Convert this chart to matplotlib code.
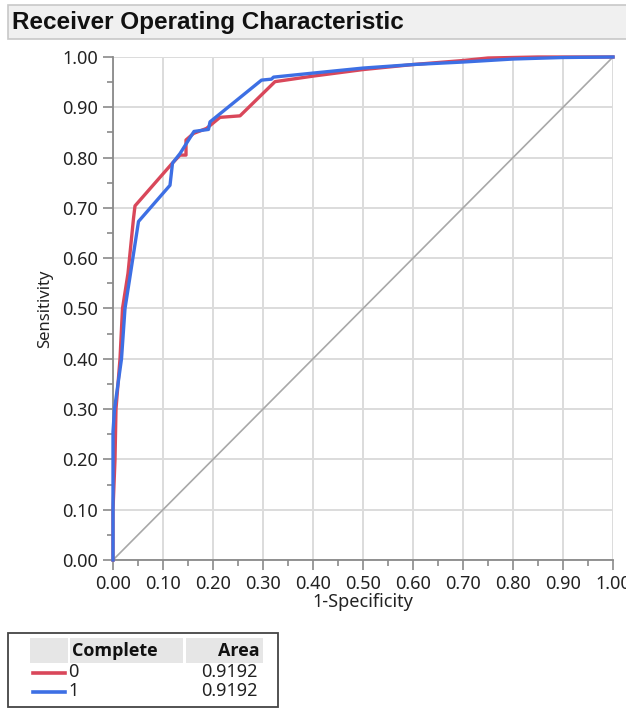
import matplotlib
matplotlib.use("Agg")
import matplotlib.pyplot as plt
from matplotlib.patches import Rectangle
from matplotlib.lines import Line2D
from matplotlib.ticker import MultipleLocator, FormatStrFormatter

# ROC curve points (1-Specificity, Sensitivity) for each level of "Complete"
fpr_0 = [0.000, 0.000, 0.004, 0.006, 0.014, 0.019, 0.030, 0.041, 0.044, 0.117, 0.134,
         0.146, 0.146, 0.161, 0.187, 0.214, 0.254, 0.324, 0.400, 0.500, 0.600, 0.700,
         0.750, 0.850, 1.000]
tpr_0 = [0.000, 0.100, 0.200, 0.300, 0.400, 0.500, 0.570, 0.679, 0.704, 0.787, 0.805,
         0.805, 0.835, 0.848, 0.858, 0.880, 0.883, 0.951, 0.962, 0.975, 0.985, 0.993,
         0.998, 1.000, 1.000]

fpr_1 = [0.000, 0.000, 0.003, 0.017, 0.024, 0.033, 0.051, 0.114, 0.119, 0.134, 0.162,
         0.191, 0.194, 0.297, 0.317, 0.321, 0.400, 0.500, 0.600, 0.700, 0.800, 0.900,
         1.000]
tpr_1 = [0.000, 0.255, 0.300, 0.400, 0.500, 0.557, 0.673, 0.745, 0.789, 0.808, 0.852,
         0.856, 0.871, 0.954, 0.956, 0.960, 0.968, 0.978, 0.985, 0.990, 0.996, 0.999,
         1.000]

levels = ["0", "1"]
areas = ["0.9192", "0.9192"]
colors = ["#d9475a", "#3d6fe4"]

FONT = "Noto Sans"
BOLD_FONT = "Open Sans"
plt.rcParams["font.family"] = [FONT, "DejaVu Sans"]

W, H = 626, 713
fig = plt.figure(figsize=(W / 100, H / 100), dpi=100)


def fx(px):
    return px / W


def fy(py):
    return 1 - py / H


# Title bar
fig.patches.append(Rectangle((fx(8), fy(39)), fx(626) - fx(8) + 0.01, fy(5) - fy(39),
                             transform=fig.transFigure, facecolor="#f0f0f0",
                             edgecolor="#c8c8c8", linewidth=1.2))
fig.text(fx(12), fy(22), "Receiver Operating Characteristic", fontsize=17.5,
         fontweight="bold", ha="left", va="center", color="#111111",
         family="Liberation Sans")

# Plot area
ax = fig.add_axes([fx(113), fy(560), fx(613) - fx(113), fy(57) - fy(560)])
ax.set_xlim(0, 1)
ax.set_ylim(0, 1)

ax.plot([0, 1], [0, 1], color="#a8a8a8", linewidth=1.2, zorder=2)
ax.plot(fpr_0, tpr_0, color=colors[0], linewidth=2.4, zorder=3, clip_on=False,
        solid_joinstyle="round")
ax.plot(fpr_1, tpr_1, color=colors[1], linewidth=2.4, zorder=4, clip_on=False,
        solid_joinstyle="round")

for a in (ax.xaxis, ax.yaxis):
    a.set_major_locator(MultipleLocator(0.1))
    a.set_minor_locator(MultipleLocator(0.05))
    a.set_major_formatter(FormatStrFormatter("%.2f"))

ax.grid(True, which="major", color="#dcdcdc", linewidth=1.4, zorder=0)
ax.set_axisbelow(True)
for s in ("top", "right"):
    ax.spines[s].set_visible(False)
for s in ("left", "bottom"):
    ax.spines[s].set_color("#8a8a8a")
    ax.spines[s].set_linewidth(1.3)

ax.tick_params(which="major", length=7, width=1.2, color="#8a8a8a",
               labelsize=13, labelcolor="#222222", pad=4)
ax.tick_params(which="minor", length=4.5, width=1.2, color="#8a8a8a")
for lbl in ax.get_xticklabels():
    lbl.set_clip_on(False)

ax.set_xlabel("1-Specificity", fontsize=13, color="#222222", labelpad=0)
ax.set_ylabel("Sensitivity", fontsize=12, color="#222222", labelpad=6)

# Legend table
fig.patches.append(Rectangle((fx(8), fy(707)), fx(278) - fx(8), fy(633) - fy(707),
                             transform=fig.transFigure, facecolor="white",
                             edgecolor="#444444", linewidth=1.3))
for x0, x1 in ((30, 68), (70, 183), (186, 263)):
    fig.patches.append(Rectangle((fx(x0), fy(663)), fx(x1) - fx(x0), fy(638) - fy(663),
                                 transform=fig.transFigure, facecolor="#e6e6e6",
                                 edgecolor="none"))
fig.text(fx(72), fy(651), "Complete", fontsize=13, fontweight="bold",
         family=BOLD_FONT, ha="left", va="center", color="#111111")
fig.text(fx(260), fy(651), "Area", fontsize=13, fontweight="bold",
         family=BOLD_FONT, ha="right", va="center", color="#111111")
for i, (lev, area, col) in enumerate(zip(levels, areas, colors)):
    yy = 672 + 19 * i
    fig.lines.append(Line2D([fx(33), fx(65)], [fy(yy + 1), fy(yy + 1)],
                            transform=fig.transFigure, color=col, linewidth=2.6))
    fig.text(fx(68), fy(yy), lev, fontsize=13, ha="left", va="center", color="#222222")
    fig.text(fx(258), fy(yy), area, fontsize=13, ha="right", va="center",
             color="#222222")

fig.savefig("out.png", dpi=100)
